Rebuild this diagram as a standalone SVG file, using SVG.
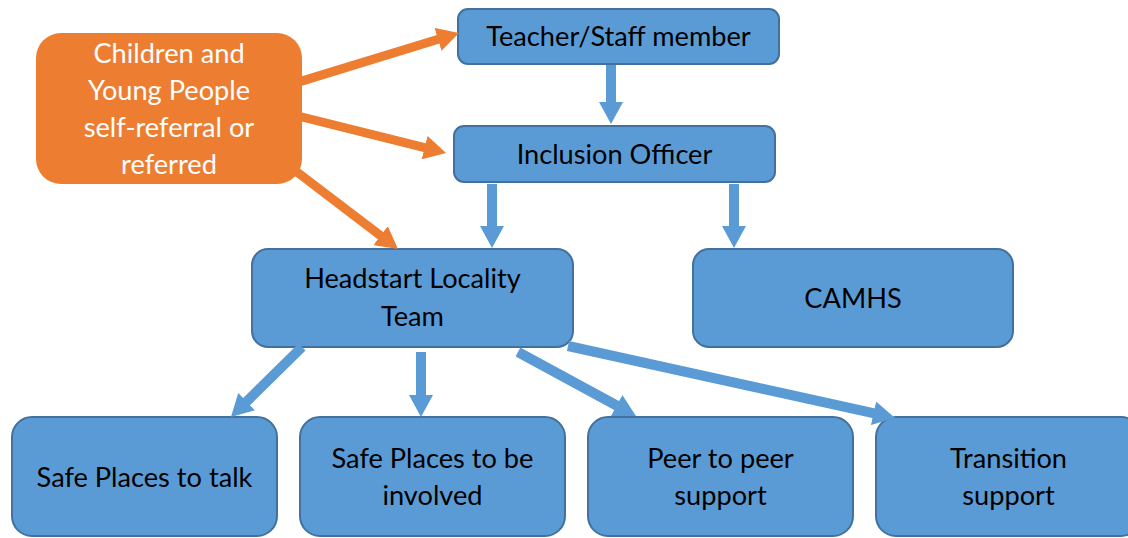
<svg xmlns="http://www.w3.org/2000/svg" width="1128" height="538" viewBox="0 0 1128 538">
<style>
.b{fill:#5B9BD5;stroke:#41719C;stroke-width:2}
.o{fill:#ED7D31}
.t{font-family:Lato,"Liberation Sans",sans-serif;font-size:27.2px;text-anchor:middle;fill:#000}
.w{fill:#fff}
.cb{stroke:#5B9BD5;stroke-width:10;fill:none}
.co{stroke:#ED7D31;stroke-width:9;fill:none}
</style>
<defs>
<marker id="ab" markerUnits="userSpaceOnUse" markerWidth="24" markerHeight="24" refX="2" refY="12" orient="auto"><path d="M0,0 L22,12 L0,24 Z" fill="#5B9BD5"/></marker>
<marker id="ao" markerUnits="userSpaceOnUse" markerWidth="24" markerHeight="24" refX="2" refY="12" orient="auto"><path d="M0,0 L22,12 L0,24 Z" fill="#ED7D31"/></marker>
</defs>
<rect width="1128" height="538" fill="#fff"/>
<g id="cyp"><rect class="o" x="36" y="33" width="266" height="151" rx="25"/>
<text class="t w" x="169" y="63">Children and</text>
<text class="t w" x="169" y="100">Young People</text>
<text class="t w" x="169" y="137">self-referral or</text>
<text class="t w" x="169" y="174">referred</text></g>
<g id="teacher"><rect class="b" x="458" y="9" width="321" height="55" rx="10"/><text class="t" x="618.5" y="45.5">Teacher/Staff member</text></g>
<g id="inclusion"><rect class="b" x="454" y="126" width="321" height="56" rx="10"/><text class="t" x="614.5" y="163.5">Inclusion Officer</text></g>
<g id="headstart"><rect class="b" x="252" y="249" width="321" height="98" rx="16"/>
<text class="t" x="412.5" y="288">Headstart Locality</text><text class="t" x="412.5" y="326">Team</text></g>
<g id="camhs"><rect class="b" x="693" y="249" width="320" height="98" rx="16"/><text class="t" x="853" y="307.5">CAMHS</text></g>
<g id="talk"><rect class="b" x="12" y="417" width="265" height="119" rx="20"/><text class="t" x="144.5" y="487">Safe Places to talk</text></g>
<g id="involved"><rect class="b" x="300" y="417" width="265" height="119" rx="20"/><text class="t" x="432.5" y="468">Safe Places to be</text><text class="t" x="432.5" y="505">involved</text></g>
<g id="peer"><rect class="b" x="588" y="417" width="265" height="119" rx="20"/><text class="t" x="720.5" y="468">Peer to peer</text><text class="t" x="720.5" y="505">support</text></g>
<g id="transition"><rect class="b" x="876" y="417" width="265" height="119" rx="20"/><text class="t" x="1008.5" y="468">Transition</text><text class="t" x="1008.5" y="505">support</text></g>
<g id="connectors">
<line class="cb" x1="611" y1="65" x2="611" y2="104" marker-end="url(#ab)"/>
<line class="cb" x1="492" y1="184" x2="492" y2="228" marker-end="url(#ab)"/>
<line class="cb" x1="734" y1="184" x2="734" y2="228" marker-end="url(#ab)"/>
<line class="cb" x1="302" y1="347" x2="245.2" y2="403" marker-end="url(#ab)"/>
<line class="cb" x1="421" y1="352" x2="421" y2="397" marker-end="url(#ab)"/>
<line class="cb" x1="518" y1="352" x2="618.4" y2="406.5" marker-end="url(#ab)"/>
<line class="cb" x1="568" y1="346" x2="875.5" y2="413.7" marker-end="url(#ab)"/>
<line class="co" x1="300" y1="81.6" x2="439.9" y2="38.8" marker-end="url(#ao)"/>
<line class="co" x1="300" y1="116.5" x2="426.6" y2="148.1" marker-end="url(#ao)"/>
<line class="co" x1="295" y1="170.5" x2="382.1" y2="236.9" marker-end="url(#ao)"/>
</g>
</svg>
